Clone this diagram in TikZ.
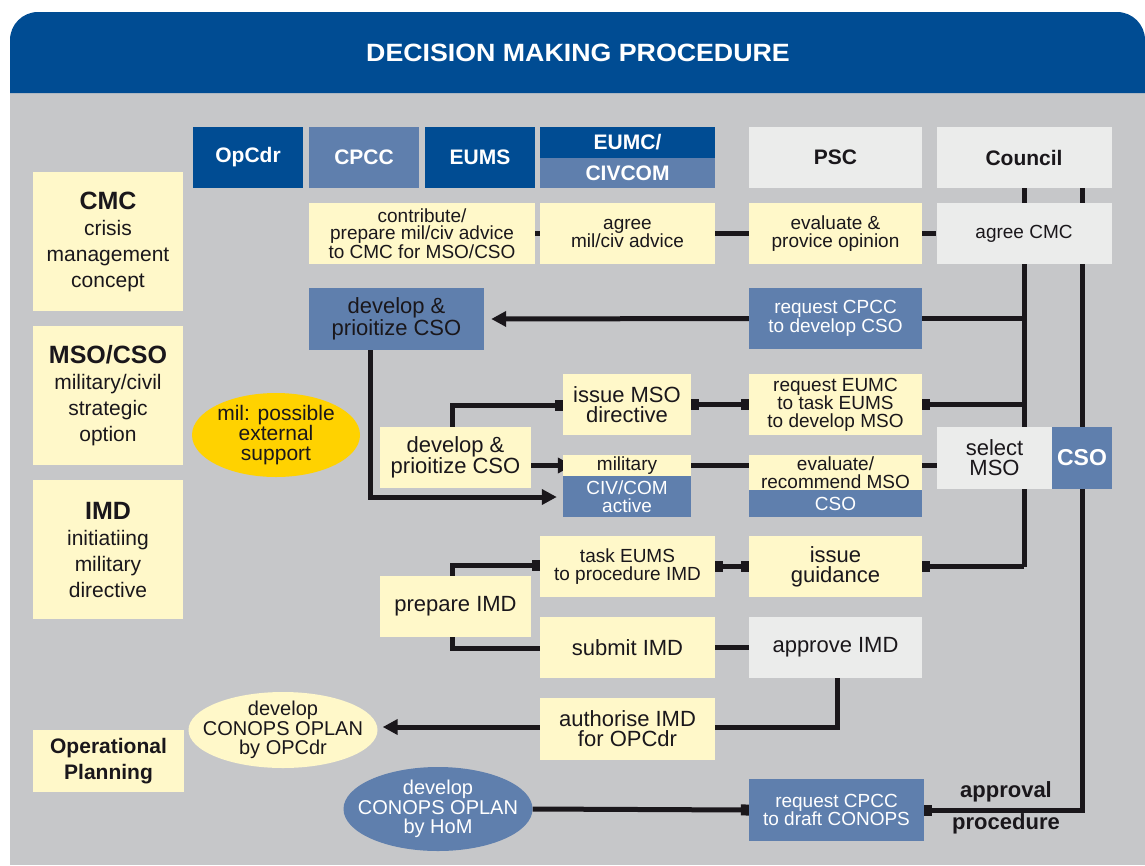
\documentclass[tikz,border=0pt]{standalone}
\usepackage{fontspec}
\setmainfont{Liberation Sans}
\usetikzlibrary{shapes.geometric,arrows.meta}
\definecolor{dblue}{HTML}{004C93}
\definecolor{mblue}{HTML}{5F7FAD}
\definecolor{lyell}{HTML}{FFF8C9}
\definecolor{lgray}{HTML}{EBECEB}
\definecolor{bggray}{HTML}{C6C7C9}
\definecolor{gold}{HTML}{FFD200}
\definecolor{ink}{HTML}{1A171B}
\pgfdeclarelayer{back}
\pgfdeclarelayer{lines}
\pgfsetlayers{back,lines,main}
\newcommand\fsm{\fontsize{19}{17.5}\selectfont}
\newcommand\fbg{\fontsize{22}{20}\selectfont}
\begin{document}
\begin{tikzpicture}[x=1pt,y=-1pt,
  bx/.style={rectangle, inner sep=0pt, align=center, text=ink},
  yb/.style={bx, fill=lyell},
  gb/.style={bx, fill=lgray},
  mb/.style={bx, fill=mblue},
  db/.style={bx, fill=dblue, text=white},
  hd/.style={font=\fontsize{21}{21}\selectfont\bfseries},
  sm/.style={font=\fsm},
  bgf/.style={font=\fbg},
  wh/.style={text=white},
  el/.style={ellipse, inner sep=0pt},
  eltext/.style={inner sep=0pt, align=center, text=ink, font=\fontsize{20}{19.5}\selectfont},
  ln/.style={draw=ink, line width=5pt},
  tipA/.style={-{Triangle[length=15pt,width=15pt]}},
  eB/.style={-{Rectangle[length=8pt,width=11pt]}},
  sB/.style={{Rectangle[length=8pt,width=11pt]}-},
  bB/.style={{Rectangle[length=8pt,width=11pt]}-{Rectangle[length=8pt,width=11pt]}},
]
\useasboundingbox (0,0) rectangle (1145,865);
\begin{pgfonlayer}{back}
  \fill[white] (0,0) rectangle (1145,865);
  \fill[bggray] (10,93) rectangle (1145,865);
  \fill[dblue] (10,93) -- (10,40) arc[start angle=180, end angle=270, radius=28] -- (1117,12) arc[start angle=270, end angle=360, radius=28] -- (1145,93) -- cycle;
\end{pgfonlayer}
\node[text=white, font=\fontsize{25}{25}\selectfont\bfseries] (title) at (578,53) {\scalebox{1.07}[1]{DECISION MAKING PROCEDURE}};

% column headers
\node[db, hd, minimum width=110, minimum height=61] (opcdr) at (248,157.5) {OpCdr};
\node[mb, wh, hd, minimum width=110, minimum height=61] (cpcc) at (364,157.5) {CPCC};
\node[db, hd, minimum width=110, minimum height=61] (eums) at (480,157.5) {EUMS};
\node[db, hd, minimum width=175, minimum height=31] (eumc) at (627.5,142.5) {EUMC/};
\node[mb, wh, hd, minimum width=175, minimum height=30] (civcom) at (627.5,173) {CIVCOM};
\node[gb, hd, minimum width=173, minimum height=61] (psc) at (835.5,157.5) {PSC};
\node[gb, hd, minimum width=175, minimum height=61] (council) at (1024,157.5) {Council};

% left column
\node[yb, minimum width=150, minimum height=139, font=\fontsize{21}{26}\selectfont] (cmc) at (108,241.5) {{\fontsize{25}{26}\selectfont\bfseries CMC}\\crisis\\management\\concept};
\node[yb, minimum width=150, minimum height=139, font=\fontsize{21}{26}\selectfont] (msocso) at (108,395.5) {{\fontsize{25}{26}\selectfont\bfseries MSO/CSO}\\military/civil\\strategic\\option};
\node[yb, minimum width=150, minimum height=139, font=\fontsize{21}{26}\selectfont] (imd) at (108,549.5) {{\fontsize{25}{26}\selectfont\bfseries IMD}\\initiatiing\\military\\directive};
\node[yb, minimum width=151, minimum height=62, font=\fontsize{21}{26}\selectfont\bfseries] (opplan) at (108.5,761) {Operational\\Planning};
\node[el, fill=gold, minimum width=168, minimum height=84] (milsup) at (276,435) {};
\node[eltext, font=\fontsize{21}{20}\selectfont] (milsupt) at (milsup) {mil: possible\\external\\support};

% row 1
\node[yb, sm, minimum width=226, minimum height=61] (contrib) at (422,233.5) {contribute/\\prepare mil/civ advice\\to CMC for MSO/CSO};
\node[yb, sm, minimum width=175, minimum height=61] (agreeadv) at (627.5,233.5) {agree\\mil/civ advice};
\node[yb, sm, minimum width=173, minimum height=61] (evalop) at (835.5,233.5) {evaluate \&\\provice opinion};
\node[gb, sm, minimum width=175, minimum height=61] (agreecmc) at (1024,233.5) {agree CMC};

% row 2
\node[mb, bgf, minimum width=175, minimum height=62] (devcpcc) at (396.5,319) {develop \&\\prioitize CSO};
\node[mb, wh, sm, minimum width=173, minimum height=61] (reqcpcc) at (835.5,318.5) {request CPCC\\to develop CSO};

% row 3
\node[yb, bgf, minimum width=128, minimum height=61] (issuemso) at (627,404.5) {issue MSO\\directive};
\node[yb, sm, minimum width=173, minimum height=61] (reqeumc) at (835.5,404.5) {request EUMC\\to task EUMS\\to develop MSO};

% row 4
\node[yb, bgf, minimum width=151, minimum height=61] (devcso) at (455.5,457.5) {develop \&\\prioitize CSO};
\node[yb, sm, minimum width=128, minimum height=21] (military) at (627,465.5) {military};
\node[mb, wh, sm, minimum width=128, minimum height=41] (civcom2) at (627,496.5) {CIV/COM\\active};
\node[yb, sm, minimum width=173, minimum height=35] (evalrec) at (835.5,472.5) {evaluate/\\recommend MSO};
\node[mb, wh, sm, minimum width=173, minimum height=27] (csoa) at (835.5,503.5) {CSO};
\node[gb, bgf, minimum width=115, minimum height=62] (selmso) at (994.5,458) {select\\MSO};
\node[mb, wh, minimum width=60, minimum height=62, font=\fontsize{23}{23}\selectfont\bfseries] (csob) at (1082,458) {CSO};

% row 5
\node[yb, bgf, minimum width=151, minimum height=61] (prepimd) at (455.5,606.5) {prepare IMD};
\node[yb, sm, minimum width=175, minimum height=61] (taskeums) at (627.5,566.5) {task EUMS\\to procedure IMD};
\node[yb, bgf, minimum width=175, minimum height=61] (submit) at (627.5,647.5) {submit IMD};
\node[yb, bgf, minimum width=173, minimum height=61] (guidance) at (835.5,566.5) {issue\\guidance};
\node[gb, bgf, minimum width=173, minimum height=61] (approve) at (835.5,647.5) {approve IMD};

% row 6
\node[yb, bgf, minimum width=175, minimum height=62] (authorise) at (627.5,729) {authorise IMD\\for OPCdr};
\node[el, fill=lyell, minimum width=189, minimum height=76] (opell) at (283,730) {};
\node[eltext] (opellt) at (opell) {develop\\CONOPS OPLAN\\by OPCdr};
\node[el, fill=mblue, minimum width=189, minimum height=84] (homell) at (438,809) {};
\node[eltext, text=white] (homellt) at (homell) {develop\\CONOPS OPLAN\\by HoM};
\node[mb, wh, sm, minimum width=175, minimum height=62] (reqdraft) at (836.5,810) {request CPCC\\to draft CONOPS};
\node[text=ink, font=\fontsize{22}{22}\selectfont\bfseries] (apl) at (1006,792) {approval};
\node[text=ink, font=\fontsize{22}{22}\selectfont\bfseries] (prl) at (1006,824) {procedure};

\coordinate (LA) at (1024,0);
\coordinate (LB) at (1082,0);

\begin{pgfonlayer}{lines}
  % council trunks
  \draw[ln] (council.south -| LA) -- (guidance.east -| LA);
  \draw[ln] (council.south -| LB) -- (csob.north);
  \draw[ln,sB] (guidance.east) -- (guidance.east -| LA);
  \draw[ln,sB] (reqdraft.east) -- (reqdraft.east -| LB) -- (csob.south);
  % row 1
  \draw[ln] (contrib.east) -- (agreeadv.west);
  \draw[ln] (agreeadv.east) -- (evalop.west);
  \draw[ln] (evalop.east) -- (agreecmc.west);
  % row 2
  \draw[ln] (reqcpcc.east) -- (reqcpcc.east -| LA);
  \draw[ln,tipA,shorten >=7pt] (reqcpcc.west) -- (devcpcc.east);
  \draw[ln,tipA,shorten >=6pt] (devcpcc.south -| 370,0) -- (370,497) -- (civcom2.west |- 370,497);
  % row 3
  \draw[ln,eB] (devcso.north -| 452,0) -- (452,405) -- (issuemso.west |- 452,405);
  \draw[ln,bB] (issuemso.east) -- (reqeumc.west);
  \draw[ln,sB] (reqeumc.east) -- (reqeumc.east -| LA);
  % row 4
  \draw[ln,tipA,shorten >=-10pt] (devcso.east |- military.west) -- (military.west);
  \draw[ln] (military.east) -- (evalrec.west |- military.east);
  \draw[ln] (evalrec.east |- military.east) -- (selmso.west |- military.east);
  % row 5
  \draw[ln,eB] (prepimd.north -| 452,0) -- (452,565) -- (taskeums.west |- 452,565);
  \draw[ln] (prepimd.south -| 452,0) -- (452,648) -- (submit.west |- 452,648);
  \draw[ln,bB] (taskeums.east) -- (guidance.west);
  \draw[ln] (submit.east) -- (approve.west);
  % row 6
  \draw[ln] (approve.south -| 837,0) -- (837,727) -- (authorise.east |- 837,727);
  \draw[ln,tipA,shorten >=5pt] (authorise.west |- 837,727) -- (opell.east |- 837,727);
  \draw[ln,eB] (homell.east) -- (reqdraft.west);
\end{pgfonlayer}
\end{tikzpicture}
\end{document}
